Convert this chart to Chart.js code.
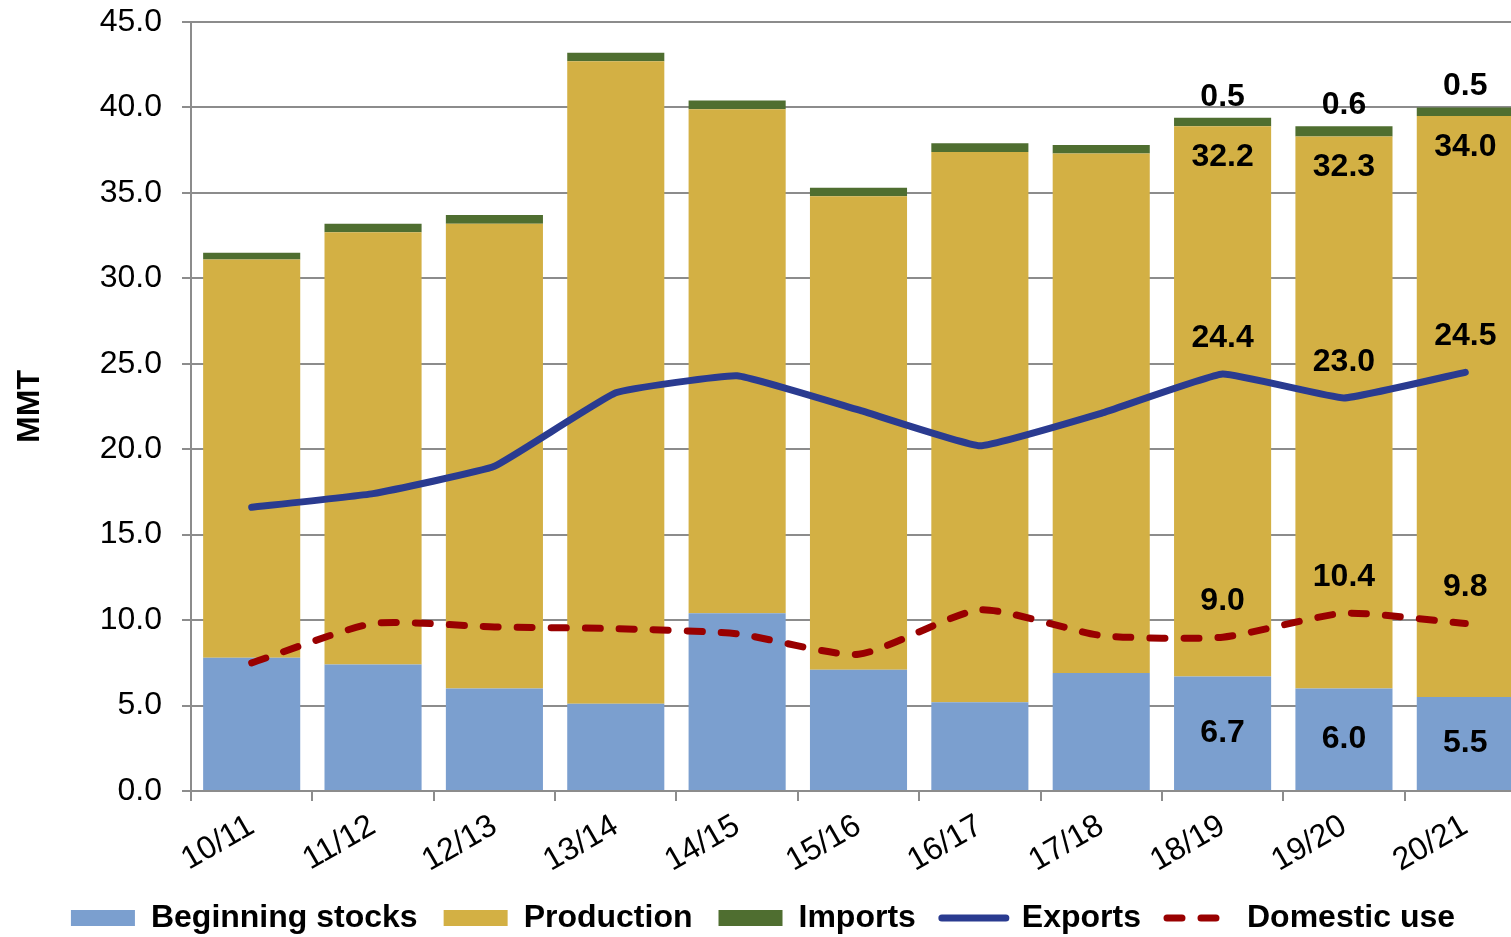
<!DOCTYPE html>
<html><head><meta charset="utf-8">
<script src="https://cdn.jsdelivr.net/npm/chart.js@4.4.0/dist/chart.umd.min.js"></script>
<style>html,body{margin:0;padding:0;background:#fff;overflow:hidden}#wrap{position:relative;width:1530px;height:944px}</style>
</head><body><div id="wrap"><canvas id="c"></canvas></div>
<script>
const categories = ['10/11','11/12','12/13','13/14','14/15','15/16','16/17','17/18','18/19','19/20','20/21'];
const beginningStocks = [7.8, 7.4, 6.0, 5.1, 10.4, 7.1, 5.2, 6.9, 6.7, 6.0, 5.5];
const production = [23.3, 25.3, 27.2, 37.6, 29.5, 27.7, 32.2, 30.4, 32.2, 32.3, 34.0];
const imports = [0.4, 0.5, 0.5, 0.5, 0.5, 0.5, 0.5, 0.5, 0.5, 0.6, 0.5];
const exportsData = [16.6, 17.4, 19.0, 23.3, 24.3, 22.3, 20.2, 22.1, 24.4, 23.0, 24.5];
const domesticUse = [7.5, 9.8, 9.6, 9.5, 9.2, 8.0, 10.6, 9.1, 9.0, 10.4, 9.8];
const labelledIndexes = [8, 9, 10];

const FONT = "'Liberation Sans', Arial, sans-serif";
Chart.defaults.font.family = FONT;
Chart.defaults.color = '#000';

const valueLabels = {
  id: 'valueLabels',
  afterDatasetsDraw(chart) {
    const ctx = chart.ctx;
    ctx.save();
    ctx.font = 'bold 32px ' + FONT;
    ctx.fillStyle = '#000';
    ctx.textAlign = 'center';
    ctx.textBaseline = 'middle';
    chart.data.datasets.forEach((ds, di) => {
      const meta = chart.getDatasetMeta(di);
      labelledIndexes.forEach(i => {
        const el = meta.data[i];
        if (!el) return;
        let y;
        if (ds.labelPos === 'center') y = (el.y + el.base) / 2;
        else if (ds.labelPos === 'insideEnd') y = el.y + 31;
        else y = el.y - ds.labelGap;
        ctx.fillText(ds.data[i].toFixed(1), el.x, y);
      });
    });
    ctx.restore();
  }
};

const GRID = '#8c8c8c';
new Chart(document.getElementById('c'), {
  data: {
    labels: categories,
    datasets: [
      {type:'bar', label:'Beginning stocks', data: beginningStocks, backgroundColor:'#7b9fcf', stack:'s', order:1, labelPos:'center'},
      {type:'bar', label:'Production', data: production, backgroundColor:'#d3b044', stack:'s', order:1, labelPos:'insideEnd'},
      {type:'bar', label:'Imports', data: imports, backgroundColor:'#4f6e30', stack:'s', order:1, labelPos:'above', labelGap:21},
      {type:'line', label:'Exports', data: exportsData, borderColor:'#2a3b90', backgroundColor:'#2a3b90', borderWidth:7, pointRadius:0, tension:0.1, stack:'e', order:0, labelPos:'above', labelGap:36, borderCapStyle:'round', borderJoinStyle:'round'},
      {type:'line', label:'Domestic use', data: domesticUse, borderColor:'#990000', backgroundColor:'#990000', borderWidth:7, pointRadius:0, tension:0.2, borderDash:[15,19], borderCapStyle:'round', stack:'d', order:0, labelPos:'above', labelGap:36}
    ]
  },
  options: {
    responsive: true,
    maintainAspectRatio: false,
    animation: false,
    layout: {padding: {top: 22, right: 4, left: 0, bottom: 0}},
    datasets: {bar: {barPercentage: 0.8, categoryPercentage: 1.0}},
    plugins: {
      tooltip: {enabled: false},
      legend: {
        position: 'bottom',
        labels: {
          font: {size: 32, weight: 'bold'},
          color: '#000',
          usePointStyle: true,
          pointStyleWidth: 64,
          boxHeight: 16,
          padding: 26,
          sort: (a, b) => a.datasetIndex - b.datasetIndex,
          generateLabels(chart) {
            return chart.data.datasets.map((ds, i) => {
              const isLine = ds.type === 'line';
              return {
                text: ds.label,
                datasetIndex: i,
                fillStyle: isLine ? 'rgba(0,0,0,0)' : ds.backgroundColor,
                strokeStyle: ds.borderColor || ds.backgroundColor,
                lineWidth: isLine ? 7 : 0,
                lineCap: 'round',
                lineDash: ds.borderDash || [],
                pointStyle: isLine ? 'line' : 'rect',
                hidden: false,
                fontColor: '#000'
              };
            });
          }
        }
      }
    },
    scales: {
      x: {
        stacked: true,
        grid: {display: true, drawOnChartArea: false, drawTicks: true, tickLength: 10, color: GRID, lineWidth: 2, offset: true},
        border: {color: GRID, width: 2},
        ticks: {font: {size: 32}, color: '#000', minRotation: 30, maxRotation: 30, padding: 6},
        afterFit(s) { s.height = 85; }
      },
      y: {
        stacked: true,
        min: 0, max: 45,
        ticks: {stepSize: 5, font: {size: 32}, color: '#000', padding: 20, callback: v => Number(v).toFixed(1)},
        grid: {color: GRID, lineWidth: 2, tickLength: 9},
        border: {color: GRID, width: 2},
        title: {display: true, text: 'MMT', font: {size: 32, weight: 'bold'}, color: '#000', padding: {top: 11, bottom: 0}},
        afterFit(s) { s.width = 191; s.paddingTop = 0; s.paddingBottom = 0; }
      }
    }
  },
  plugins: [valueLabels]
});
</script>
</body></html>
